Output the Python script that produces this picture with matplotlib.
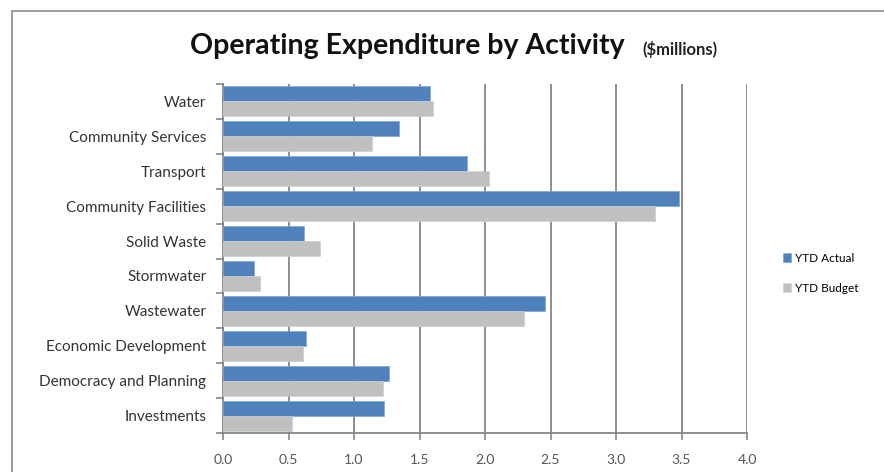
import numpy as np
import matplotlib.pyplot as plt
from matplotlib.patches import Rectangle

plt.rcParams['font.family'] = ['Lato', 'DejaVu Sans']

activities = ['Water', 'Community Services', 'Transport', 'Community Facilities',
              'Solid Waste', 'Stormwater', 'Wastewater', 'Economic Development',
              'Democracy and Planning', 'Investments']
ytd_actual = [1.58, 1.34, 1.86, 3.48, 0.62, 0.24, 2.46, 0.63, 1.27, 1.23]
ytd_budget = [1.60, 1.14, 2.03, 3.30, 0.74, 0.28, 2.30, 0.61, 1.22, 0.53]
xticks = [0.0, 0.5, 1.0, 1.5, 2.0, 2.5, 3.0, 3.5, 4.0]

fig = plt.figure(figsize=(8.84, 4.72), dpi=100)
W, H = 884, 472
# plot area in pixels: left 223, right 747, top 84, bottom 433
ax = fig.add_axes([223 / W, 1 - 433 / H, (747 - 223) / W, (433 - 84) / H])

# outer chart frame
fig.patches.append(Rectangle((12 / W, -0.1), 1.0, 1 - 11 / H + 0.1,
                             transform=fig.transFigure, fill=False,
                             edgecolor='#8c8c8c', linewidth=1.2))

y = np.arange(len(activities))
h = 0.43
ax.barh(y - h / 2, ytd_actual, height=h, color='#4F81BD', edgecolor='#7fa6d6',
        linewidth=0.5, label='YTD Actual', zorder=3)
ax.barh(y + h / 2, ytd_budget, height=h, color='#C0C0C0', edgecolor='#cfcfcf',
        linewidth=0.5, label='YTD Budget', zorder=3)

ax.set_ylim(len(activities) - 0.5, -0.5)
ax.set_xlim(0, 4.0)
ax.set_xticks(xticks)
ax.set_xticklabels(['%.1f' % v for v in xticks])
ax.set_yticks(np.arange(len(activities) + 1) - 0.5, minor=False)
ax.set_yticklabels([])
ax.set_yticks(y, minor=True)
ax.set_yticklabels(activities, minor=True)
ax.tick_params(axis='y', which='minor', length=0, pad=12, labelsize=11, labelcolor='#333333')
ax.tick_params(axis='y', which='major', length=5, direction='out', color='#868686', width=1.2)
ax.tick_params(axis='x', length=5, direction='out', color='#868686', width=1.2,
               labelsize=10, labelcolor='#555555', pad=10)
ax.xaxis.grid(True, color='#868686', linewidth=1.3, zorder=0)
ax.set_axisbelow(True)
for s in ['top', 'right']:
    ax.spines[s].set_visible(False)
for s in ['left', 'bottom']:
    ax.spines[s].set_color('#868686')
    ax.spines[s].set_linewidth(1.3)

fig.text(190 / W, 1 - 46 / H, 'Operating Expenditure by Activity', fontsize=20.5,
         fontweight='bold', va='center', ha='left', color='#111111')
fig.text(642 / W, 1 - 49 / H, '($millions)', fontsize=12, fontweight='bold',
         va='center', ha='left', color='#222222')

fig.legend(loc='upper left', bbox_to_anchor=(778 / W, 1 - 248 / H), frameon=False,
           fontsize=8.5, handlelength=0.7, handleheight=0.7, handletextpad=0.3,
           labelspacing=1.6, borderaxespad=0)

fig.savefig('out.png', dpi=100)
